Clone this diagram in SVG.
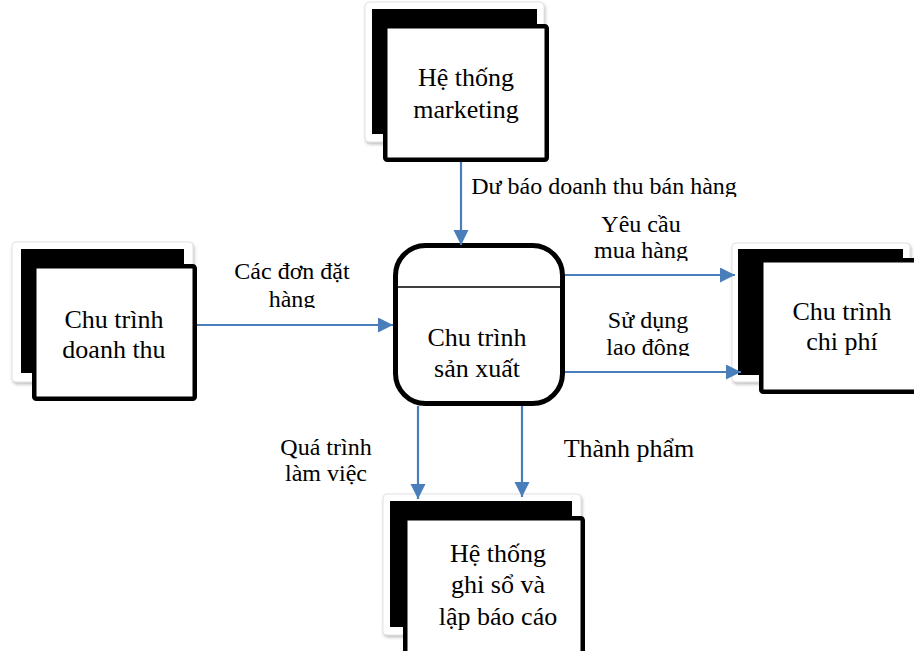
<svg xmlns="http://www.w3.org/2000/svg" width="914" height="651" viewBox="0 0 914 651">
  <defs>
    <style>
      .card { fill: #ffffff; stroke: #e2e2e2; stroke-width: 1; filter: url(#soft); }
      .back { fill: #000000; }
      .front { fill: #ffffff; stroke: #000000; stroke-width: 4.5; }
      .node-text { font-family: "Liberation Serif", "Times New Roman", serif; font-size: 26px; fill: #000000; text-anchor: middle; }
      .label { font-family: "Liberation Serif", "Times New Roman", serif; font-size: 24px; fill: #000000; text-anchor: middle; }
      .flow { fill: none; stroke: #4a7ebb; stroke-width: 2.2; marker-end: url(#arrow); }
    </style>
    <filter id="soft" x="-10%" y="-10%" width="125%" height="125%">
      <feDropShadow dx="1" dy="2" stdDeviation="1.6" flood-color="#8c8c8c" flood-opacity="0.55"/>
    </filter>
    <marker id="arrow" markerUnits="userSpaceOnUse" markerWidth="16" markerHeight="16" refX="15" refY="7.5" orient="auto">
      <path d="M0,0 L15,7.5 L0,15 Z" fill="#4a7ebb"/>
    </marker>
    <clipPath id="clipForecast"><rect x="460" y="165" width="300" height="32"/></clipPath>
    <clipPath id="clipOrders"><rect x="220" y="250" width="150" height="58"/></clipPath>
    <clipPath id="clipPurchase"><rect x="580" y="205" width="130" height="56"/></clipPath>
    <clipPath id="clipLabor"><rect x="580" y="300" width="130" height="56"/></clipPath>
  </defs>

  <rect width="914" height="651" fill="#ffffff"/>

  <!-- external entity: marketing -->
  <g id="node-marketing">
    <rect class="card" x="365" y="2" width="179" height="140" rx="4"/>
    <rect class="back" x="372" y="9" width="165" height="125"/>
    <rect class="front" x="385.25" y="26.25" width="161.5" height="133.5" rx="2"/>
    <text class="node-text" x="466" y="86">Hệ thống</text>
    <text class="node-text" x="466" y="118">marketing</text>
  </g>

  <!-- external entity: revenue cycle -->
  <g id="node-revenue">
    <rect class="card" x="12" y="242" width="181" height="140" rx="4"/>
    <rect class="back" x="21" y="249" width="163" height="124"/>
    <rect class="front" x="34.25" y="266.25" width="160.5" height="132.5" rx="2"/>
    <text class="node-text" x="114" y="328">Chu trình</text>
    <text class="node-text" x="114" y="358">doanh thu</text>
  </g>

  <!-- external entity: expenditure cycle -->
  <g id="node-expenditure">
    <rect class="card" x="732" y="243" width="178" height="139" rx="4"/>
    <rect class="back" x="738" y="249" width="165" height="126"/>
    <rect class="front" x="761.25" y="260.25" width="165" height="131.5" rx="2"/>
    <text class="node-text" x="842" y="320">Chu trình</text>
    <text class="node-text" x="842" y="350">chi phí</text>
  </g>

  <!-- external entity: ledger and reporting -->
  <g id="node-reporting">
    <rect class="card" x="383" y="494" width="198" height="141" rx="4"/>
    <rect class="back" x="390" y="501" width="182" height="126"/>
    <rect class="front" x="405.25" y="518.25" width="177.5" height="140" rx="2"/>
    <text class="node-text" x="498" y="562">Hệ thống</text>
    <text class="node-text" x="498" y="593">ghi sổ và</text>
    <text class="node-text" x="498" y="625">lập báo cáo</text>
  </g>

  <!-- process: production cycle -->
  <g id="node-production">
    <rect x="395.5" y="245.5" width="167" height="158" rx="30" fill="#ffffff" stroke="#000000" stroke-width="5"/>
    <line x1="397" y1="287" x2="561" y2="287" stroke="#000000" stroke-width="1.5"/>
    <text class="node-text" x="477" y="346">Chu trình</text>
    <text class="node-text" x="477" y="377">sản xuất</text>
  </g>

  <!-- data flows -->
  <g id="connectors">
    <path class="flow" d="M461,162 V245"/>
    <path class="flow" d="M197,325 H393"/>
    <path class="flow" d="M565,275 H735"/>
    <path class="flow" d="M565,372 H741"/>
    <path class="flow" d="M418,406 V499"/>
    <path class="flow" d="M522,406 V497"/>
  </g>

  <!-- flow labels -->
  <g id="labels">
    <text class="label" x="604" y="194" clip-path="url(#clipForecast)">Dư báo doanh thu bán hàng</text>
    <g clip-path="url(#clipOrders)">
      <text class="label" x="292" y="279">Các đơn đặt</text>
      <text class="label" x="292" y="307">hàng</text>
    </g>
    <g clip-path="url(#clipPurchase)">
      <text class="label" x="641" y="232">Yêu cầu</text>
      <text class="label" x="641" y="258">mua hàng</text>
    </g>
    <g clip-path="url(#clipLabor)">
      <text class="label" x="648" y="328">Sử dụng</text>
      <text class="label" x="648" y="355">lao đông</text>
    </g>
    <text class="label" x="326" y="455">Quá trình</text>
    <text class="label" x="326" y="481">làm việc</text>
    <text class="node-text" x="629" y="457">Thành phẩm</text>
  </g>
</svg>
